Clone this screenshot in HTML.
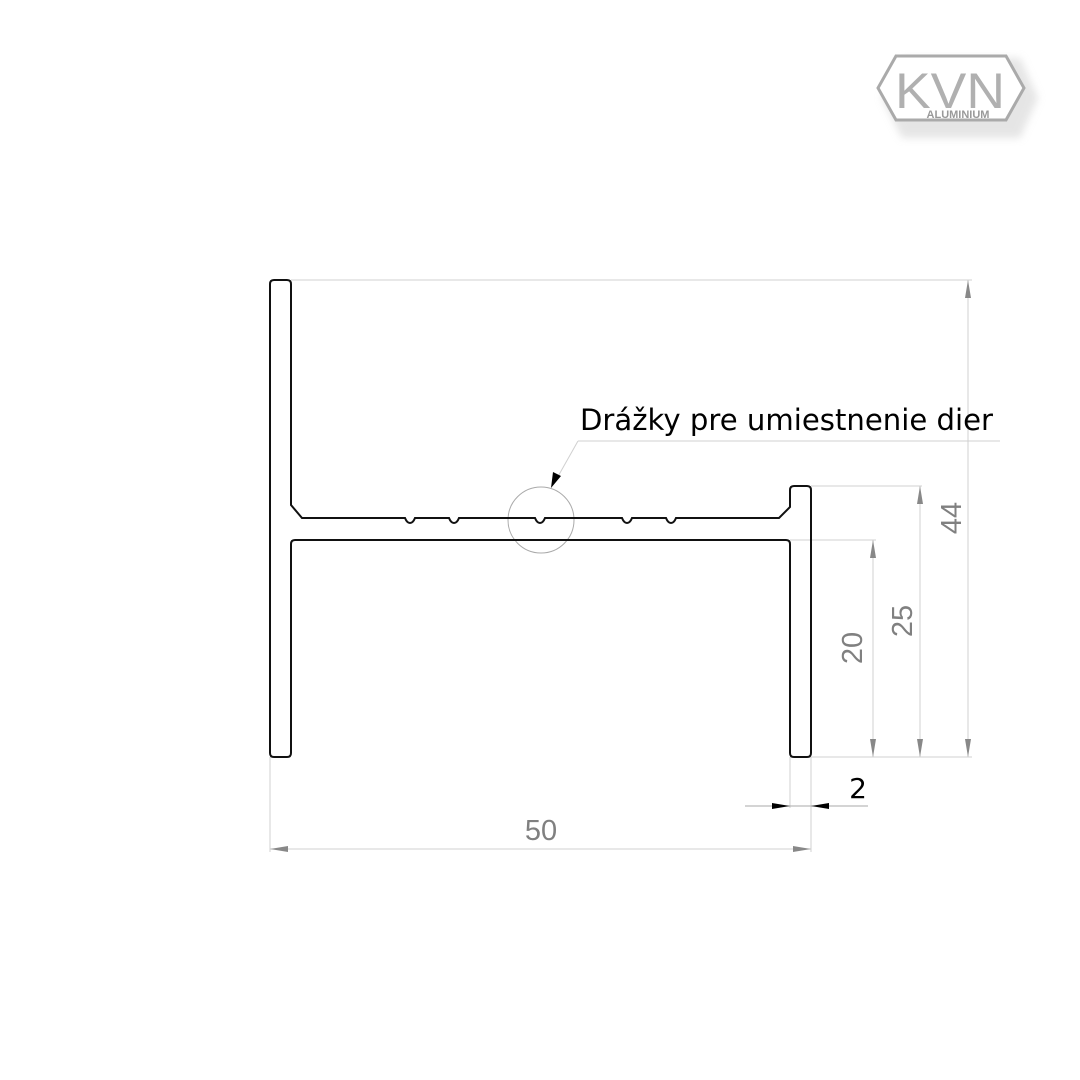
<!DOCTYPE html>
<html><head><meta charset="utf-8"><style>body{margin:0;background:#fff}svg{display:block}</style></head><body>
<svg width="1080" height="1080" viewBox="0 0 1080 1080" xmlns="http://www.w3.org/2000/svg">
<defs><filter id="b"><feGaussianBlur stdDeviation="4"/></filter></defs>
<g>
<polygon points="882,98 902,58 1020,58 1038,98 1020,138 902,138" fill="#ccc" filter="url(#b)" opacity="0.5"/>
<polygon points="878,88 896,56 1006,56 1024,88 1006,120 896,120" fill="#fff" stroke="#aaa" stroke-width="3"/>
<text x="950" y="108" font-family="Liberation Sans, sans-serif" font-size="50" fill="#b0b0b0" text-anchor="middle" textLength="110" lengthAdjust="spacingAndGlyphs">KVN</text>
<text x="958" y="118" font-family="Liberation Sans, sans-serif" font-size="11" font-weight="bold" fill="#999" text-anchor="middle">ALUMINIUM</text>
</g>
<g stroke="#d0d0d0" stroke-width="1" fill="none">
<line x1="291" y1="280" x2="972" y2="280"/>
<line x1="811" y1="486" x2="922" y2="486"/>
<line x1="790" y1="540" x2="876" y2="540"/>
<line x1="811" y1="757" x2="972" y2="757"/>
<line x1="968" y1="280" x2="968" y2="757"/>
<line x1="920" y1="486" x2="920" y2="757"/>
<line x1="873" y1="540" x2="873" y2="757"/>
<line x1="270" y1="757" x2="270" y2="852"/>
<line x1="811" y1="757" x2="811" y2="852"/>
<line x1="790" y1="757" x2="790" y2="808"/>
<line x1="270" y1="849" x2="811" y2="849"/>
<line x1="578" y1="441" x2="1000" y2="441"/>
<line x1="578" y1="441" x2="556" y2="480"/>
</g>
<line x1="745" y1="806" x2="868" y2="806" stroke="#aaa" stroke-width="1"/>
<circle cx="541" cy="520" r="33" fill="none" stroke="#aaa" stroke-width="1"/>
<g fill="#888">
<polygon points="968,280 965,298 971,298"/>
<polygon points="968,757 965,739 971,739"/>
<polygon points="920,486 917,504 923,504"/>
<polygon points="920,757 917,739 923,739"/>
<polygon points="873,540 870,558 876,558"/>
<polygon points="873,757 870,739 876,739"/>
<polygon points="270,849 288,846 288,852"/>
<polygon points="811,849 793,846 793,852"/>
</g>
<g fill="#000">
<polygon points="790,806 772,803 772,809"/>
<polygon points="811,806 829,803 829,809"/>
<polygon points="551,488 553,472 561,476"/>
</g>
<path d="M270,284 Q270,280 274,280 L287,280 Q291,280 291,284 L291,505 L302,518 L405,518 q2,5 5,5 q3,0 5,-5 L449,518 q2,5 5,5 q3,0 5,-5 L535,518 q2,5 5,5 q3,0 5,-5 L622,518 q2,5 5,5 q3,0 5,-5 L666,518 q2,5 5,5 q3,0 5,-5 L779,518 L790,507 L790,490 Q790,486 794,486 L807,486 Q811,486 811,490 L811,753 Q811,757 807,757 L794,757 Q790,757 790,753 L790,544 Q790,540 786,540 L295,540 Q291,540 291,544 L291,753 Q291,757 287,757 L274,757 Q270,757 270,753 Z" fill="none" stroke="#111" stroke-width="2"/>
<g font-family="Liberation Sans, DejaVu Sans, sans-serif" font-size="29" fill="#808080">
<text x="541" y="840" text-anchor="middle">50</text>
<text transform="translate(961,518) rotate(-90)" text-anchor="middle">44</text>
<text transform="translate(912,621) rotate(-90)" text-anchor="middle">25</text>
<text transform="translate(862,648) rotate(-90)" text-anchor="middle">20</text>
</g>
<text x="858" y="798" font-family="DejaVu Sans, sans-serif" font-size="28" fill="#000" text-anchor="middle">2</text>
<text x="580" y="430" font-family="DejaVu Sans, sans-serif" font-size="29" fill="#000" textLength="413" lengthAdjust="spacingAndGlyphs">Drážky pre umiestnenie dier</text>
</svg>
</body></html>
